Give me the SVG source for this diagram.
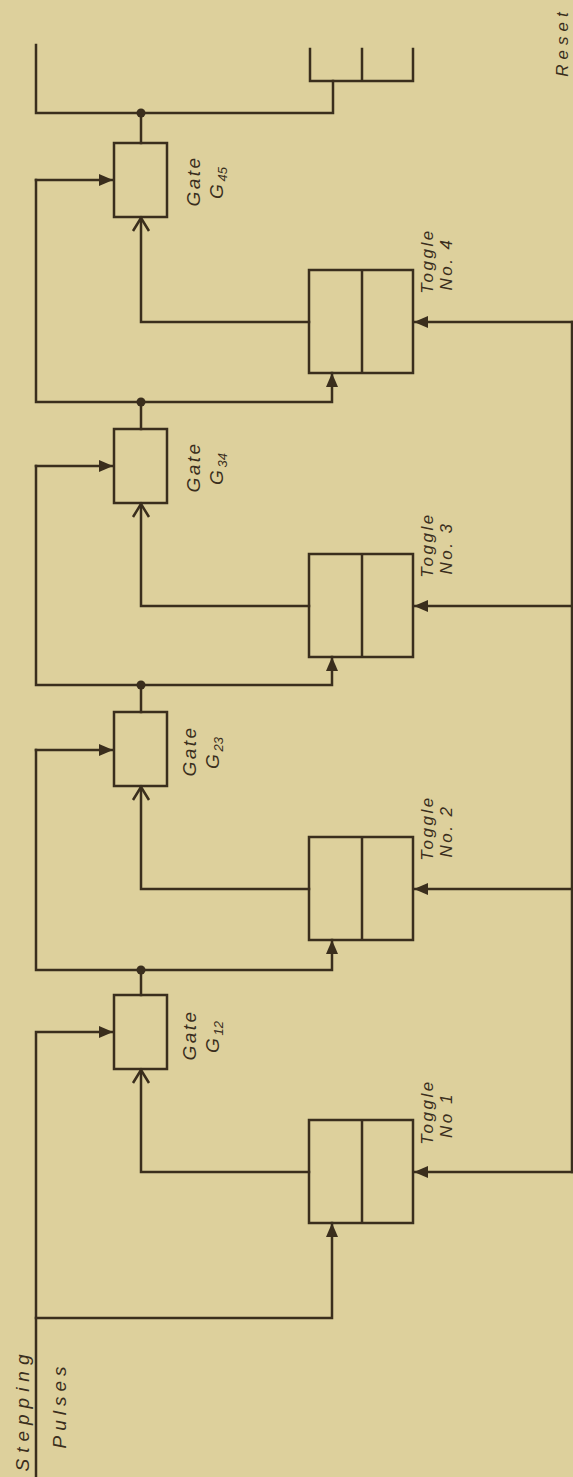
<svg xmlns="http://www.w3.org/2000/svg" width="573" height="1477" viewBox="0 0 573 1477">
<style>
.w{fill:none;stroke:#3a2e1d;stroke-width:2.5;stroke-linejoin:miter;stroke-linecap:square}
.b{fill:none;stroke:#3a2e1d;stroke-width:2.5}
.d{fill:#3a2e1d}
.t{font-family:"Liberation Sans",Arial,sans-serif;font-style:italic;fill:#3a2e1d;text-anchor:middle}
.lg{font-size:19px;letter-spacing:2.5px}
.sm{font-size:17px;letter-spacing:2.5px}
.sub{font-size:13px;letter-spacing:0}
</style>
<defs>
<marker id="fa" viewBox="0 0 14 12" refX="14" refY="6" markerWidth="14" markerHeight="12" markerUnits="userSpaceOnUse" orient="auto"><path d="M0,0 L14,6 L0,12 z" fill="#3a2e1d"/></marker>
<marker id="oa" viewBox="0 0 16 18" refX="14" refY="9" markerWidth="16" markerHeight="18" markerUnits="userSpaceOnUse" orient="auto" overflow="visible"><path d="M1,1 L14,9 L1,17" fill="none" stroke="#3a2e1d" stroke-width="2.5"/></marker>
</defs>
<rect width="573" height="1477" fill="#ddd09c"/>
<g id="connectors" class="w">
<path d="M36,1477 V1032 H113" marker-end="url(#fa)"/>
<path d="M36,1318 H332 V1223" marker-end="url(#fa)"/>
<path d="M309,1172 H141 V1070" marker-end="url(#oa)"/>
<path d="M141,995 V970"/>
<path d="M36,750 V970 H332 V940" marker-end="url(#fa)"/>
<path d="M36,750 H113" marker-end="url(#fa)"/>
<path d="M309,889 H141 V787" marker-end="url(#oa)"/>
<path d="M141,712 V685"/>
<path d="M36,466 V685 H332 V657" marker-end="url(#fa)"/>
<path d="M36,466 H113" marker-end="url(#fa)"/>
<path d="M309,606 H141 V504" marker-end="url(#oa)"/>
<path d="M141,429 V402"/>
<path d="M36,180 V402 H332 V373" marker-end="url(#fa)"/>
<path d="M36,180 H113" marker-end="url(#fa)"/>
<path d="M309,322 H141 V218" marker-end="url(#oa)"/>
<path d="M141,143 V113"/>
<path d="M36,45 V113 H333 V81"/>
<path d="M310,49 V81 H413 V49 M362,49 V81"/>
<path d="M572,322 V1172"/>
<path d="M572,1172 H414" marker-end="url(#fa)"/>
<path d="M572,889 H414" marker-end="url(#fa)"/>
<path d="M572,606 H414" marker-end="url(#fa)"/>
<path d="M572,322 H414" marker-end="url(#fa)"/>
<circle class="d" cx="141" cy="970" r="4.5" stroke="none"/>
<circle class="d" cx="141" cy="685" r="4.5" stroke="none"/>
<circle class="d" cx="141" cy="402" r="4.5" stroke="none"/>
<circle class="d" cx="141" cy="113" r="4.5" stroke="none"/>
</g>
<g id="gate12"><rect class="b" x="114" y="995" width="53" height="74"/>
<text class="t lg" transform="translate(196,1035) rotate(-90)">Gate</text>
<text class="t lg" transform="translate(219,1037) rotate(-90)">G<tspan class="sub" dy="4">12</tspan></text></g>
<g id="gate23"><rect class="b" x="114" y="712" width="53" height="74"/>
<text class="t lg" transform="translate(196,751) rotate(-90)">Gate</text>
<text class="t lg" transform="translate(219,753) rotate(-90)">G<tspan class="sub" dy="4">23</tspan></text></g>
<g id="gate34"><rect class="b" x="114" y="429" width="53" height="74"/>
<text class="t lg" transform="translate(200,467) rotate(-90)">Gate</text>
<text class="t lg" transform="translate(223,469) rotate(-90)">G<tspan class="sub" dy="4">34</tspan></text></g>
<g id="gate45"><rect class="b" x="114" y="143" width="53" height="74"/>
<text class="t lg" transform="translate(200,181) rotate(-90)">Gate</text>
<text class="t lg" transform="translate(223,183) rotate(-90)">G<tspan class="sub" dy="4">45</tspan></text></g>
<g id="toggle1"><rect class="b" x="309" y="1120" width="104" height="103"/><path class="b" d="M362,1120 V1223"/>
<text class="t sm" transform="translate(433,1112) rotate(-90)">Toggle</text>
<text class="t sm" transform="translate(452,1115) rotate(-90)">No 1</text></g>
<g id="toggle2"><rect class="b" x="309" y="837" width="104" height="103"/><path class="b" d="M362,837 V940"/>
<text class="t sm" transform="translate(433,828) rotate(-90)">Toggle</text>
<text class="t sm" transform="translate(452,831) rotate(-90)">No. 2</text></g>
<g id="toggle3"><rect class="b" x="309" y="554" width="104" height="103"/><path class="b" d="M362,554 V657"/>
<text class="t sm" transform="translate(433,545) rotate(-90)">Toggle</text>
<text class="t sm" transform="translate(452,548) rotate(-90)">No. 3</text></g>
<g id="toggle4"><rect class="b" x="309" y="270" width="104" height="103"/><path class="b" d="M362,270 V373"/>
<text class="t sm" transform="translate(433,261) rotate(-90)">Toggle</text>
<text class="t sm" transform="translate(452,264) rotate(-90)">No. 4</text></g>
<g id="labels">
<text class="t lg" transform="translate(29,1410) rotate(-90)" style="letter-spacing:6px">Stepping</text>
<text class="t lg" transform="translate(66,1405) rotate(-90)" style="letter-spacing:5px">Pulses</text>
<text class="t sm" transform="translate(568,42) rotate(-90)" style="letter-spacing:5px">Reset</text>
</g>
</svg>
